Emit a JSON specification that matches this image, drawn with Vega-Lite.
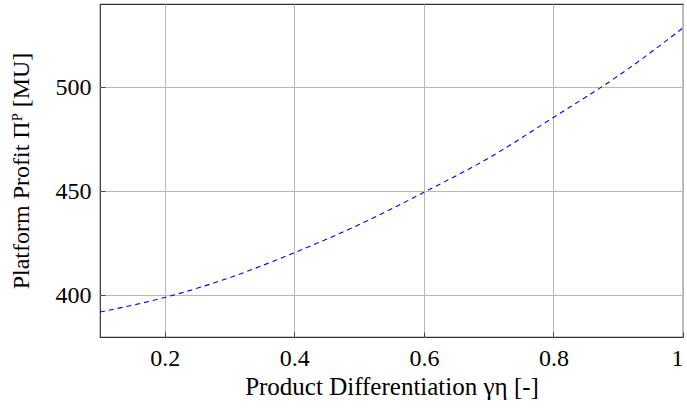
{
  "$schema": "https://vega.github.io/schema/vega-lite/v6.json",
  "width": 583,
  "height": 333,
  "autosize": "none",
  "padding": {"left": 100, "top": 4, "right": 4, "bottom": 74},
  "background": "white",
  "config": {
    "view": {"stroke": "#333333", "strokeWidth": 1.2},
    "font": "Liberation Serif",
    "axis": {
      "labelFont": "Liberation Serif",
      "titleFont": "Liberation Serif",
      "labelFontSize": 24,
      "titleFontSize": 24,
      "titleFontWeight": "normal",
      "labelColor": "black",
      "titleColor": "black",
      "gridColor": "#b8b8b8",
      "gridWidth": 1,
      "domain": false,
      "tickColor": "#444444",
      "tickSize": -5,
      "labelPadding": 14
    }
  },
  "data": {
    "values": [
      {"g": 0.1, "p": 392},
      {"g": 0.2, "p": 399},
      {"g": 0.3, "p": 408.5},
      {"g": 0.4, "p": 420.5},
      {"g": 0.5, "p": 434},
      {"g": 0.6, "p": 449.5},
      {"g": 0.7, "p": 466},
      {"g": 0.8, "p": 485.5},
      {"g": 0.9, "p": 505.5},
      {"g": 1.0, "p": 528.5}
    ]
  },
  "mark": {"type": "line", "color": "#0000ff", "strokeWidth": 1.1, "strokeDash": [5, 4], "interpolate": "monotone", "clip": true},
  "encoding": {
    "x": {
      "field": "g", "type": "quantitative",
      "scale": {"domain": [0.1, 1], "nice": false, "zero": false},
      "axis": {"values": [0.2, 0.4, 0.6, 0.8, 1], "labelExpr": "datum.value == 1 ? '1' : format(datum.value, '.1f')", "title": "Product Differentiation γη [-]", "titlePadding": 4, "titleFontSize": 25, "labelFlush": true}
    },
    "y": {
      "field": "p", "type": "quantitative",
      "scale": {"domain": [380, 540], "nice": false, "zero": false},
      "axis": {"values": [400, 450, 500], "title": "Platform Profit Πᴾ [MU]", "titlePadding": 22}
    }
  }
}
